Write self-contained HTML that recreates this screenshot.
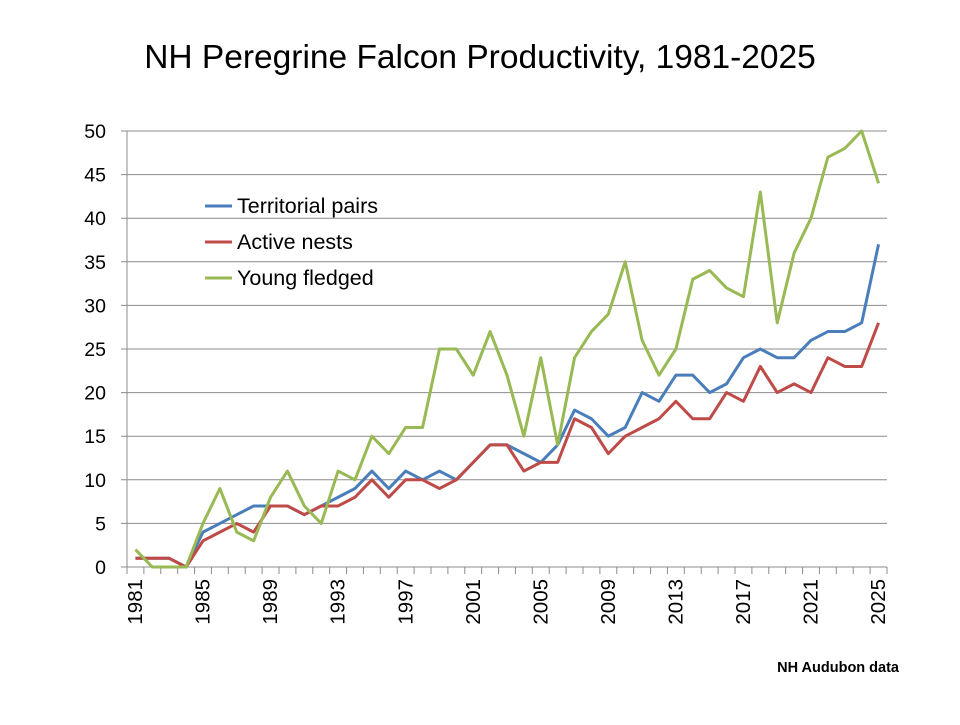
<!DOCTYPE html>
<html><head><meta charset="utf-8"><style>body{margin:0;background:#fff}</style></head><body>
<svg width="960" height="720" xmlns="http://www.w3.org/2000/svg" font-family="Liberation Sans, sans-serif">
<rect width="960" height="720" fill="#fff"/>
<text x="480" y="68" font-size="33.5" text-anchor="middle">NH Peregrine Falcon Productivity, 1981-2025</text>
<g stroke="#8c8c8c" stroke-width="1">
<line x1="121" y1="567" x2="887" y2="567"/>
<line x1="121" y1="523.4" x2="887" y2="523.4"/>
<line x1="121" y1="479.8" x2="887" y2="479.8"/>
<line x1="121" y1="436.2" x2="887" y2="436.2"/>
<line x1="121" y1="392.6" x2="887" y2="392.6"/>
<line x1="121" y1="349" x2="887" y2="349"/>
<line x1="121" y1="305.4" x2="887" y2="305.4"/>
<line x1="121" y1="261.8" x2="887" y2="261.8"/>
<line x1="121" y1="218.2" x2="887" y2="218.2"/>
<line x1="121" y1="174.6" x2="887" y2="174.6"/>
<line x1="121" y1="131" x2="887" y2="131"/>
<line x1="127" y1="131" x2="127" y2="567"/>
</g>
<g transform="translate(127,567) scale(16.8889,1)" stroke="#8c8c8c" stroke-width="1">
<path vector-effect="non-scaling-stroke" d="M0,0V7M1,0V7M2,0V7M3,0V7M4,0V7M5,0V7M6,0V7M7,0V7M8,0V7M9,0V7M10,0V7M11,0V7M12,0V7M13,0V7M14,0V7M15,0V7M16,0V7M17,0V7M18,0V7M19,0V7M20,0V7M21,0V7M22,0V7M23,0V7M24,0V7M25,0V7M26,0V7M27,0V7M28,0V7M29,0V7M30,0V7M31,0V7M32,0V7M33,0V7M34,0V7M35,0V7M36,0V7M37,0V7M38,0V7M39,0V7M40,0V7M41,0V7M42,0V7M43,0V7M44,0V7M45,0V7"/>
</g>
<g font-size="19.5" text-anchor="end">
<text x="106" y="574">0</text><text x="106" y="530.4">5</text><text x="106" y="486.8">10</text><text x="106" y="443.2">15</text><text x="106" y="399.6">20</text><text x="106" y="356">25</text><text x="106" y="312.4">30</text><text x="106" y="268.8">35</text><text x="106" y="225.2">40</text><text x="106" y="181.6">45</text><text x="106" y="138">50</text>
</g>
<g font-size="20.5" text-anchor="end">
<text transform="translate(142,579) rotate(-90)">1981</text>
<text transform="translate(209.6,579) rotate(-90)">1985</text>
<text transform="translate(277.2,579) rotate(-90)">1989</text>
<text transform="translate(344.7,579) rotate(-90)">1993</text>
<text transform="translate(412.3,579) rotate(-90)">1997</text>
<text transform="translate(479.8,579) rotate(-90)">2001</text>
<text transform="translate(547.4,579) rotate(-90)">2005</text>
<text transform="translate(614.9,579) rotate(-90)">2009</text>
<text transform="translate(682.5,579) rotate(-90)">2013</text>
<text transform="translate(750,579) rotate(-90)">2017</text>
<text transform="translate(817.6,579) rotate(-90)">2021</text>
<text transform="translate(885.2,579) rotate(-90)">2025</text>
</g>
<g transform="translate(135.44,567) scale(16.8889,-8.72)" fill="none" stroke-width="3" stroke-linejoin="round">
<polyline vector-effect="non-scaling-stroke" stroke="#4a7ebb" points="0,1 1,1 2,1 3,0 4,4 5,5 6,6 7,7 8,7 9,7 10,6 11,7 12,8 13,9 14,11 15,9 16,11 17,10 18,11 19,10 20,12 21,14 22,14 23,13 24,12 25,14 26,18 27,17 28,15 29,16 30,20 31,19 32,22 33,22 34,20 35,21 36,24 37,25 38,24 39,24 40,26 41,27 42,27 43,28 44,37"/>
<polyline vector-effect="non-scaling-stroke" stroke="#be4b48" points="0,1 1,1 2,1 3,0 4,3 5,4 6,5 7,4 8,7 9,7 10,6 11,7 12,7 13,8 14,10 15,8 16,10 17,10 18,9 19,10 20,12 21,14 22,14 23,11 24,12 25,12 26,17 27,16 28,13 29,15 30,16 31,17 32,19 33,17 34,17 35,20 36,19 37,23 38,20 39,21 40,20 41,24 42,23 43,23 44,28"/>
<polyline vector-effect="non-scaling-stroke" stroke="#98b954" points="0,2 1,0 2,0 3,0 4,5 5,9 6,4 7,3 8,8 9,11 10,7 11,5 12,11 13,10 14,15 15,13 16,16 17,16 18,25 19,25 20,22 21,27 22,22 23,15 24,24 25,14 26,24 27,27 28,29 29,35 30,26 31,22 32,25 33,33 34,34 35,32 36,31 37,43 38,28 39,36 40,40 41,47 42,48 43,50 44,44"/>
</g>
<g font-size="21.5">
<line x1="205" y1="206" x2="232" y2="206" stroke="#4a7ebb" stroke-width="3"/><text x="237" y="213">Territorial pairs</text>
<line x1="205" y1="242" x2="232" y2="242" stroke="#be4b48" stroke-width="3"/><text x="237" y="249">Active nests</text>
<line x1="205" y1="278" x2="232" y2="278" stroke="#98b954" stroke-width="3"/><text x="237" y="285">Young fledged</text>
</g>
<text x="899" y="672" font-size="14.5" font-weight="bold" text-anchor="end">NH Audubon data</text>
</svg>
</body></html>
